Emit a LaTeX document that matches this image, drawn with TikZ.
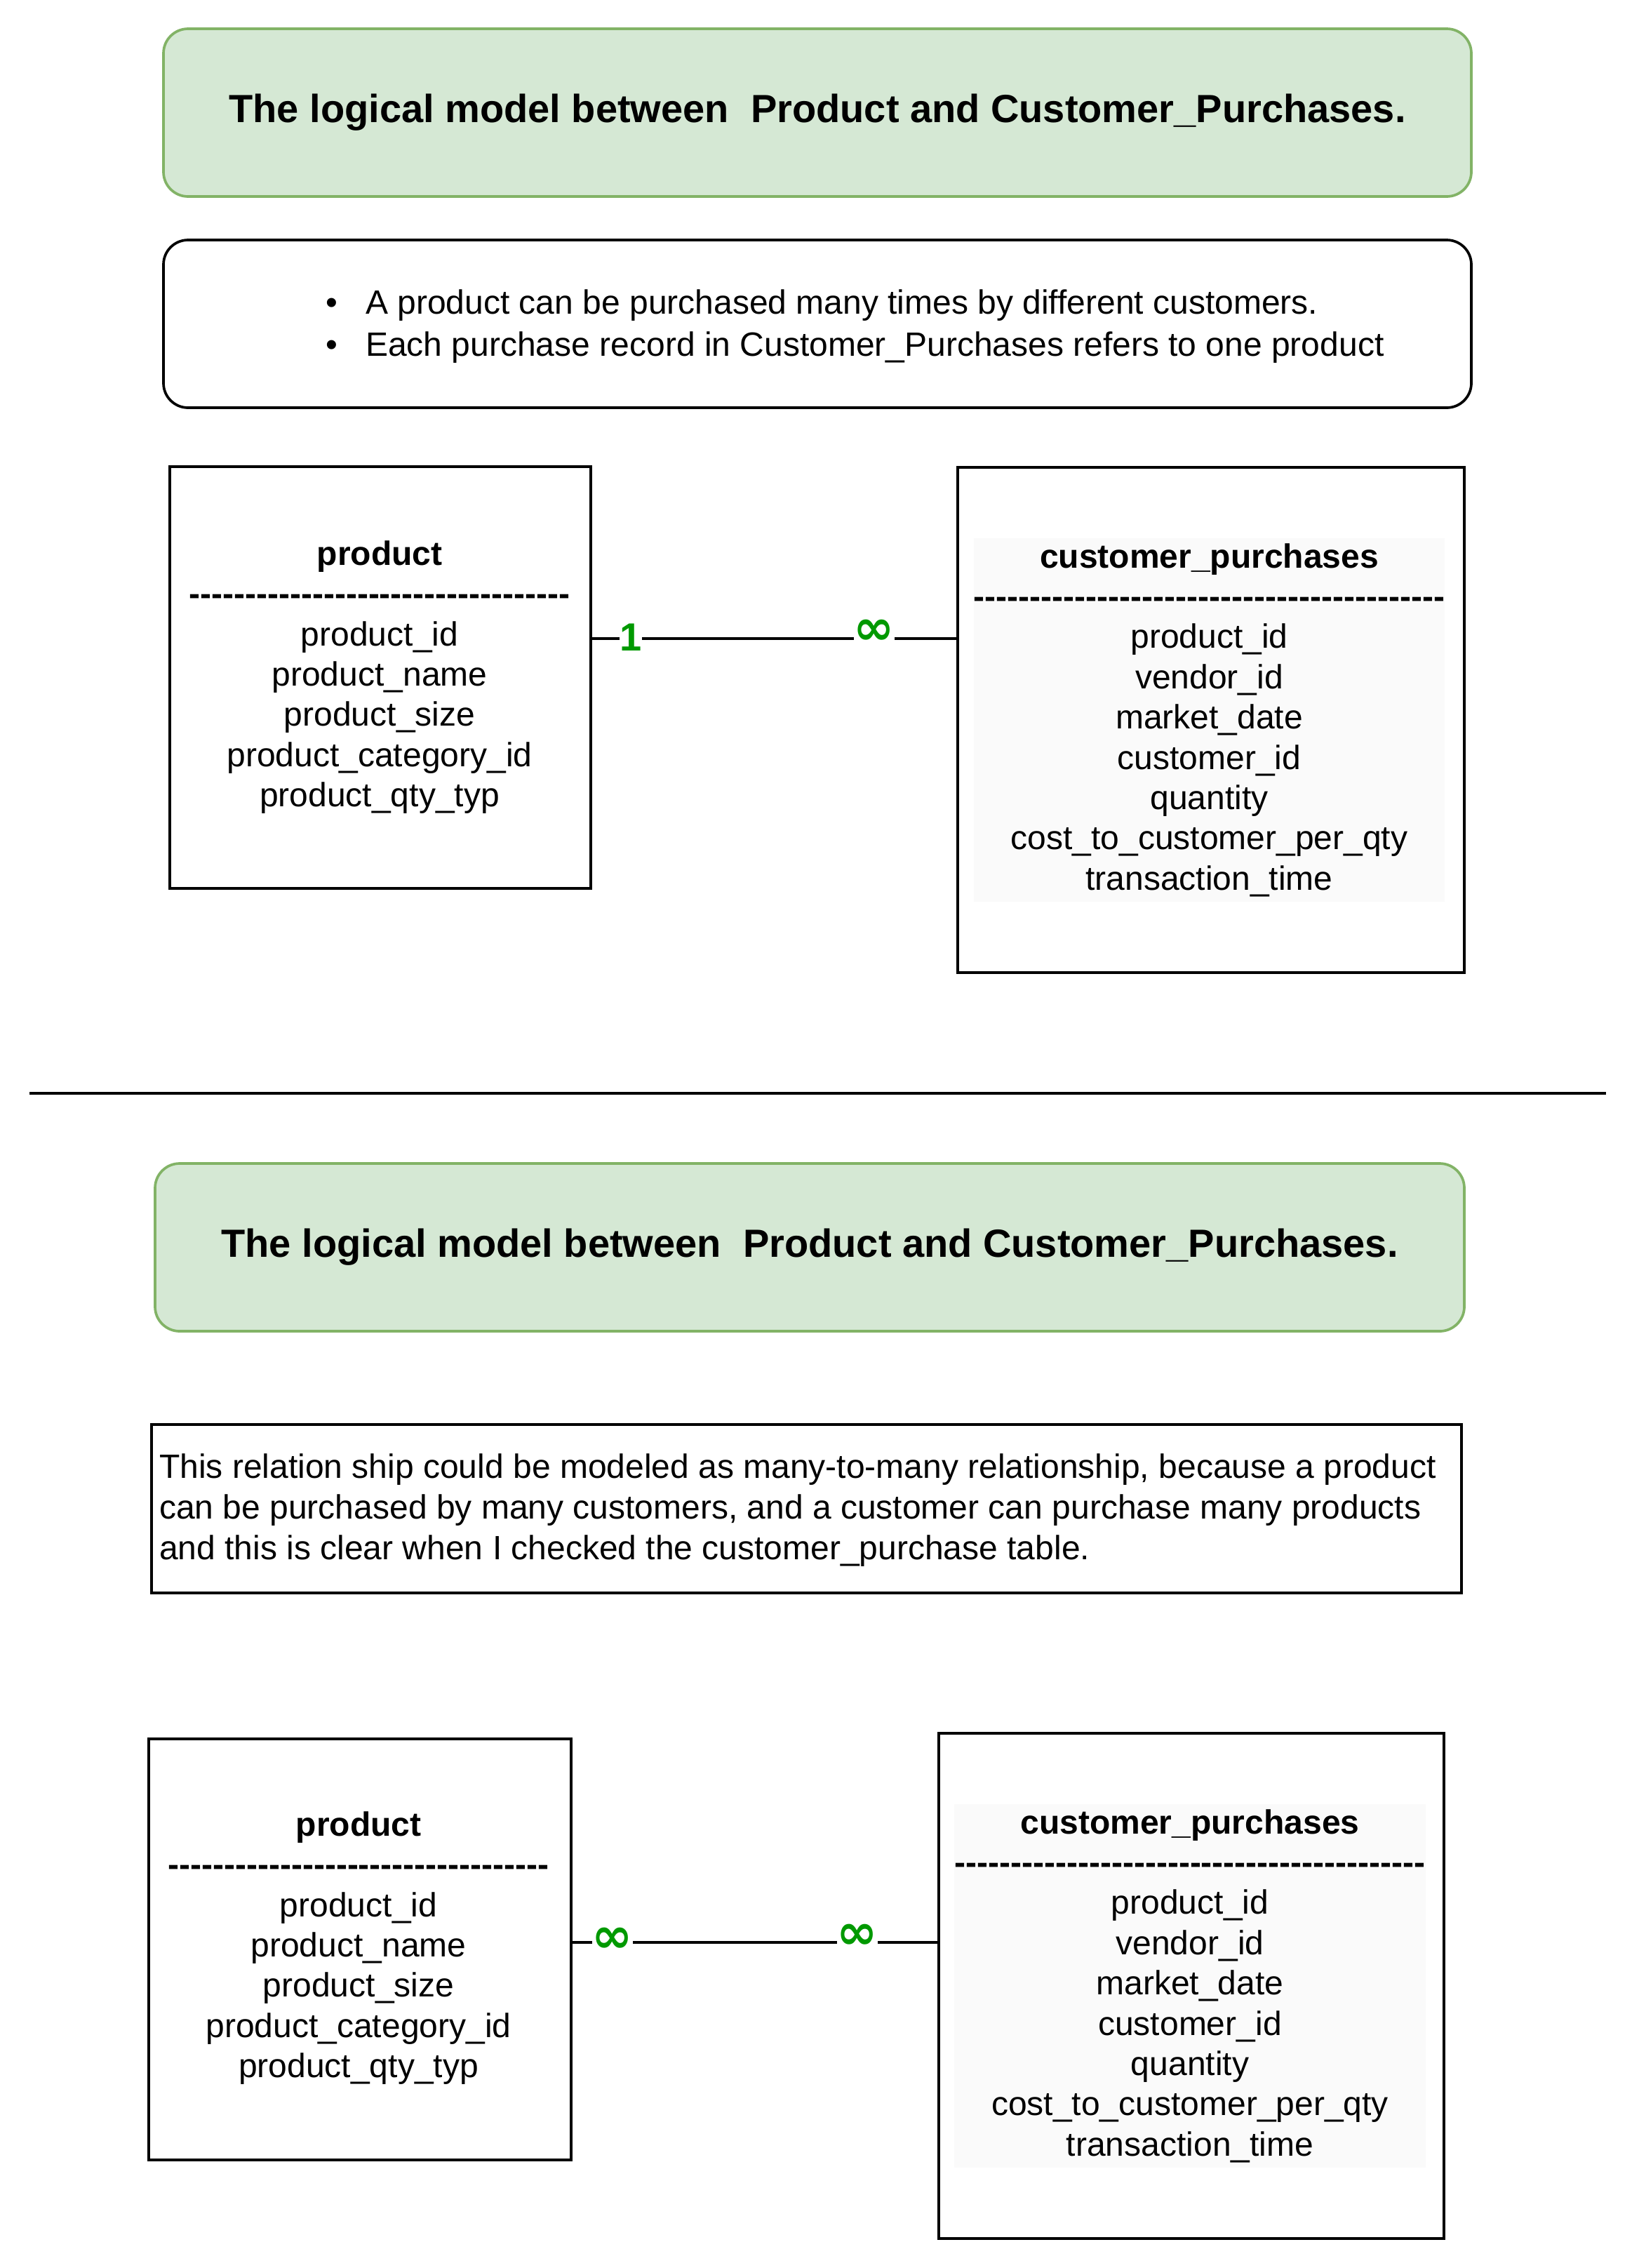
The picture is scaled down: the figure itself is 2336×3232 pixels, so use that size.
\documentclass[tikz,border=0pt]{standalone}
\usepackage{fontspec}
\setmainfont{Liberation Sans}
\newfontfamily\inffont{DejaVu Sans}
\definecolor{tfill}{HTML}{D5E8D4}
\definecolor{tdraw}{HTML}{82B366}
\definecolor{lbl}{HTML}{009900}
\definecolor{gbg}{HTML}{FAFAFA}
\newcommand\hyph[1]{\ifnum#1>0 \mbox{-}\expandafter\hyph\expandafter{\the\numexpr#1-1\relax}\fi}
\newcommand\bul{\llap{\makebox[96pt][c]{•}}}
\tikzset{
  titlebox/.style={draw=tdraw, fill=tfill, line width=3.7pt, rounded corners=35pt, inner sep=0pt,
    font=\fontsize{56}{67}\selectfont\bfseries},
  tbl/.style={draw, line width=3.7pt, inner sep=0pt},
  fld/.style={align=center, inner sep=0pt, font=\fontsize{48}{57.4}\selectfont},
  txt/.style={inner sep=0pt},
  conn/.style={line width=3.7pt},
  sepline/.style={line width=4pt},
  lab/.style={fill=white, text=lbl, font=\fontsize{56}{67}\selectfont\bfseries, inner ysep=2pt, inner xsep=0pt},
  inflab/.style={lab, font=\fontsize{70}{80}\inffont\bfseries, inner xsep=0pt},
}
\begin{document}
\begin{tikzpicture}[x=1pt, y=-1pt]
\useasboundingbox[fill=white] (0,0) rectangle (2336,3232);

% ---------- upper part ----------
\node[titlebox, minimum width=1864pt, minimum height=239pt] (titleA) at (1165,160.5)
  {The logical model between~~Product and Customer\_Purchases.};
\node[tbl, rounded corners=35pt, minimum width=1864pt, minimum height=239pt] (noteA) at (1165,461.5) {};
\node[txt, align=left, anchor=west, font=\fontsize{48}{60}\selectfont] (noteAtxt) at (521,465.5)
  {\bul A product can be purchased many times by different customers.\\
   \bul Each purchase record in Customer\_Purchases refers to one product};

\node[tbl, minimum width=600pt, minimum height=601pt] (prodA) at (542,965.5) {};
\node[fld] (prodAtxt) at (541,965)
  {\textbf{product}\\\textbf{\hyph{34}}\\product\_id\\product\_name\\product\_size\\product\_category\_id\\product\_qty\_typ};
\node[tbl, minimum width=722pt, minimum height=720pt] (custA) at (1726,1026) {};
\node[fld, fill=gbg, inner ysep=7pt] (custAtxt) at (1723.5,1026)
  {\textbf{customer\_purchases}\\\textbf{\hyph{42}}\\product\_id\\vendor\_id\\market\_date\\customer\_id\\quantity\\cost\_to\_customer\_per\_qty\\transaction\_time};

\coordinate (lnA) at (0,910);
\draw[conn] (lnA -| prodA.east) -- (lnA -| custA.west);
\node[lab] (oneA) at (899,908) {1};
\node[inflab] (manyA) at (1246,901) {∞};

% ---------- separator ----------
\coordinate (sepL) at (42,1558);
\coordinate (sepR) at (2289,1558);
\draw[sepline] (sepL) -- (sepR);

% ---------- lower part ----------
\node[titlebox, minimum width=1866pt, minimum height=239pt] (titleB) at (1154,1777.5)
  {The logical model between~~Product and Customer\_Purchases.};
\node[tbl, minimum width=1867pt, minimum height=240pt] (noteB) at (1149.5,2150) {};
\node[txt, align=left, anchor=west, font=\fontsize{48}{58}\selectfont] (noteBtxt) at (227,2152.5)
  {This relation ship could be modeled as many-to-many relationship, because a product\\
   can be purchased by many customers, and a customer can purchase many products\\
   and this is clear when I checked the customer\_purchase table.};

\node[tbl, minimum width=602pt, minimum height=600pt] (prodB) at (513,2778) {};
\node[fld] (prodBtxt) at (511,2776)
  {\textbf{product}\\\textbf{\hyph{34}}\\product\_id\\product\_name\\product\_size\\product\_category\_id\\product\_qty\_typ};
\node[tbl, minimum width=720pt, minimum height=720pt] (custB) at (1698,2830) {};
\node[fld, fill=gbg, inner ysep=7pt] (custBtxt) at (1696,2830)
  {\textbf{customer\_purchases}\\\textbf{\hyph{42}}\\product\_id\\vendor\_id\\market\_date\\customer\_id\\quantity\\cost\_to\_customer\_per\_qty\\transaction\_time};

\coordinate (lnB) at (0,2768);
\draw[conn] (lnB -| prodB.east) -- (lnB -| custB.west);
\node[inflab] (manyB1) at (873,2765) {∞};
\node[inflab] (manyB2) at (1222,2760) {∞};
\end{tikzpicture}
\end{document}
